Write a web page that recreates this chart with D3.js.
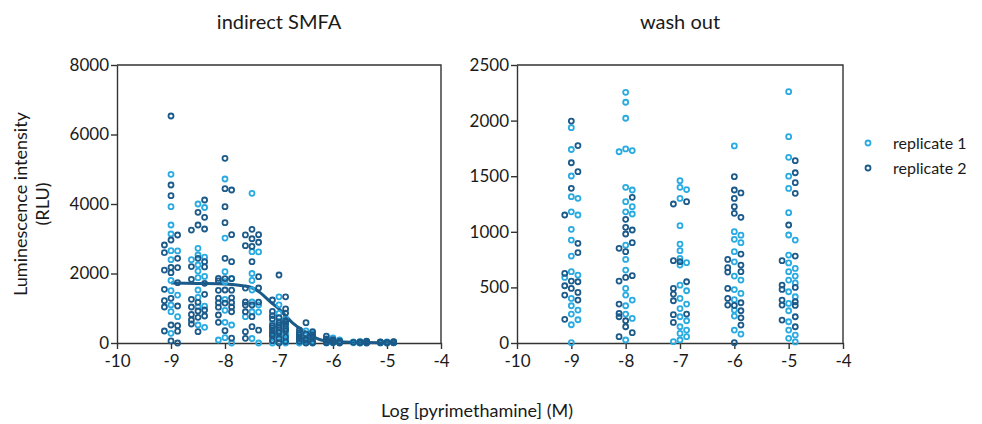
<!DOCTYPE html>
<html>
<head>
<meta charset="utf-8">
<script src="https://cdn.jsdelivr.net/npm/d3@7"></script>
<style>
  body { margin: 0; background: #fff; }
  text { font-family: Lato, "Open Sans", sans-serif; fill: #1a1a1a; }
  .axis path, .axis line { stroke: #333; stroke-width: 1.4; }
  .axis text { font-size: 17px; fill: #1a1a1a; }
</style>
</head>
<body>
<svg id="chart" width="982" height="424"></svg>
<script>
/*********** data ***********/
const smfaDoses = [-9, -8.5, -8, -7.5, -7, -6.5, -6, -5.5, -5];
const smfaRep1 = [
  [4855, 3924, 3396, 3137, 2656, 2650, 2397, 1800, 1506, 1380, 1094, 901, 758, 278],
  [4000, 3900, 2724, 2532, 2470, 2397, 2244, 2070, 1916, 1880, 1525, 1314, 1040, 1060, 518, 450],
  [4720, 3020, 2052, 1764, 1860, 1256, 940, 595, 518, 153, 0, 86],
  [4307, 2628, 2620, 2000, 1800, 1525, 1180, 1094, 900, 890, 758, 130, 0],
  [1330, 1100, 850, 700, 620, 560, 470, 380, 300, 250, 220, 160, 90, 30, 0, 0],
  [350, 280, 200, 150, 120, 90, 60, 40, 20, 10, 0, 0, 30, 70],
  [150, 90, 60, 30, 10, 0, 40, 20, 5],
  [40, 20, 5, 0, 10, 30],
  [30, 10, 0, 20, 5]
];
const smfaRep2 = [
  [6533, 4547, 4240, 3108, 2964, 2820, 2600, 2436, 2177, 2170, 2100, 2023, 1735, 1544, 1285, 1218, 1065, 1036, 518, 500, 345, 340, 60, 0],
  [4115, 3761, 3617, 3396, 3280, 3250, 2436, 2340, 2200, 2190, 1832, 1717, 1400, 1256, 1170, 1036, 950, 921, 820, 777, 740, 662, 547, 326],
  [5315, 4441, 4403, 3924, 3463, 3118, 2436, 2340, 1860, 1855, 1850, 1790, 1525, 1520, 1515, 1300, 1290, 1160, 1155, 1150, 1036, 1030, 900, 806, 595, 355, 140],
  [3272, 3118, 3110, 3000, 2900, 2800, 2780, 2340, 1908, 1583, 1580, 1180, 1175, 1094, 1090, 900, 758, 470, 370, 326, 134],
  [1957, 1330, 1237, 980, 910, 860, 790, 730, 690, 640, 600, 580, 540, 520, 500, 450, 445, 410, 370, 350, 330, 290, 260, 210, 170, 130, 70, 40, 0],
  [585, 380, 330, 300, 260, 240, 230, 190, 160, 140, 130, 110, 80, 50, 20, 5, 0],
  [200, 120, 100, 80, 60, 50, 30, 25, 15, 10, 0],
  [50, 40, 30, 25, 20, 15, 10, 5, 0],
  [40, 35, 30, 25, 20, 15, 10, 5, 0]
];
const fitDose = [-9, -8.5, -8, -7.67, -7.5, -7.35, -7.17, -7, -6.75, -6.5, -6.25, -6, -5.5, -5, -4.82];
const fitValue = [1730, 1715, 1700, 1650, 1590, 1450, 1200, 980, 580, 300, 100, 40, 15, 10, 10];

const washDoses = [-9, -8, -7, -6, -5];
const washRep1 = [
  [1936, 1740, 1502, 1316, 1301, 1180, 1151, 1022, 926, 782, 641, 611, 590, 401, 335, 296, 260, 209, 164, 3],
  [2254, 2165, 2021, 1745, 1730, 1720, 1400, 1376, 1271, 1226, 1180, 1160, 880, 752, 656, 491, 431, 386, 335, 260, 221, 27],
  [1460, 1400, 1380, 1300, 1055, 890, 830, 761, 722, 701, 520, 470, 401, 350, 310, 236, 200, 146, 116, 86, 57, 27, 12],
  [1772, 1001, 970, 932, 902, 821, 730, 602, 566, 480, 446, 390, 296, 242, 116, 80],
  [2260, 1855, 1670, 1500, 1390, 1172, 971, 926, 791, 720, 671, 641, 602, 566, 540, 461, 416, 356, 290, 191, 116, 71, 42, 10]
];
const washRep2 = [
  [1996, 1775, 1621, 1541, 1391, 1151, 896, 812, 626, 557, 551, 515, 491, 455, 431, 386, 213],
  [1310, 1112, 1040, 1016, 980, 902, 851, 821, 605, 590, 557, 350, 266, 236, 200, 146, 93, 57],
  [1271, 1250, 740, 731, 551, 491, 440, 380, 260, 255, 185],
  [1496, 1376, 1350, 1300, 1226, 1166, 1130, 800, 752, 701, 677, 641, 638, 491, 401, 362, 341, 338, 290, 226, 161, 3],
  [1640, 1531, 1442, 1346, 1061, 782, 740, 521, 500, 482, 386, 371, 341, 338, 236, 206, 146]
];

const xTicks = [-10, -9, -8, -7, -6, -5, -4];
const smfaYTicks = [0, 2000, 4000, 6000, 8000];
const washYTicks = [0, 500, 1000, 1500, 2000, 2500];
const seriesNames = ["replicate 1", "replicate 2"];
const seriesColors = ["#29abe2", "#1b5a89"];

/*********** setup ***********/
const svg = d3.select("svg#chart");
const plotTop = 65, plotBottom = 343;
const fmt = d => (d < 0 ? "-" + Math.abs(d) : String(d));

// flatten into points, rep1 first so it claims the centre slot
const toPoints = (doses, r1, r2) => {
  const pts = [];
  doses.forEach((d, i) => {
    r1[i].forEach(v => pts.push({ d, v, rep: 0 }));
    r2[i].forEach(v => pts.push({ d, v, rep: 1 }));
  });
  return pts;
};

// simple spread of overlapping dots, like the scatter in the original
const spread = (pts, x, y) => {
  const step = 6.6, minGap = 6;
  d3.group(pts, p => p.d).forEach(col => {
    const placed = [];
    col.forEach(p => {
      const cy = y(p.v);
      let best = x(p.d), bestGap = -1;
      for (const k of [0, 1, -1]) {
        const cx = x(p.d) + k * step;
        const gap = placed.length ? d3.min(placed, q => Math.hypot(q.px - cx, q.py - cy)) : Infinity;
        if (gap >= minGap) { best = cx; break; }
        if (gap > bestGap) { bestGap = gap; best = cx; }
      }
      p.px = best;
      p.py = cy;
      placed.push(p);
    });
  });
  return pts;
};

const drawPanel = (left, right, yMax, yTicks, title, pts, fit) => {
  const x = d3.scaleLinear().domain([-10, -4]).range([left, right]);
  const y = d3.scaleLinear().domain([0, yMax]).range([plotBottom, plotTop]);
  const g = svg.append("g");

  // frame top & right
  g.append("path")
    .attr("d", `M${x(-10)},${y(yMax)}H${x(-4)}V${y(0)}`)
    .attr("fill", "none").attr("stroke", "#333").attr("stroke-width", 1.4);

  g.append("g").attr("class", "axis")
    .attr("transform", `translate(0,${y(0)})`)
    .call(d3.axisBottom(x).tickValues(xTicks).tickFormat(fmt).tickSize(6).tickSizeOuter(0).tickPadding(4))
    .selectAll("text").attr("dy", "0.8em");
  g.append("g").attr("class", "axis")
    .attr("transform", `translate(${x(-10)},0)`)
    .call(d3.axisLeft(y).tickValues(yTicks).tickFormat(fmt).tickSize(6).tickSizeOuter(0).tickPadding(2));

  g.append("text").text(title)
    .attr("x", (left + right) / 2).attr("y", 29)
    .attr("text-anchor", "middle").style("font-size", "20px");

  if (fit) {
    g.append("path")
      .datum(fit)
      .attr("d", d3.line().x(d => x(d[0])).y(d => y(d[1])).curve(d3.curveMonotoneX))
      .attr("fill", "none").attr("stroke", seriesColors[1]).attr("stroke-width", 3);
  }

  spread(pts, x, y);
  g.append("g").selectAll("circle")
    .data(pts)
    .join("circle")
    .attr("cx", d => d.px)
    .attr("cy", d => d.py)
    .attr("r", 2.5)
    .attr("fill", "none")
    .attr("stroke", d => seriesColors[d.rep])
    .attr("stroke-width", 1.8);
};

drawPanel(117, 441, 8000, smfaYTicks, "indirect SMFA",
  toPoints(smfaDoses, smfaRep1, smfaRep2),
  fitDose.map((d, i) => [d, fitValue[i]]));
drawPanel(517, 843, 2500, washYTicks, "wash out",
  toPoints(washDoses, washRep1, washRep2), null);

/*********** labels & legend ***********/
const yLab = svg.append("text")
  .attr("transform", "translate(21,204) rotate(-90)")
  .attr("text-anchor", "middle").style("font-size", "18px");
yLab.append("tspan").attr("x", 0).attr("dy", "0.35em").text("Luminescence intensity");
yLab.append("tspan").attr("x", 0).attr("dy", "1.2em").text("(RLU)");

svg.append("text").text("Log [pyrimethamine] (M)")
  .attr("x", 477).attr("y", 417)
  .attr("text-anchor", "middle").style("font-size", "18px");

const legend = svg.append("g").attr("transform", "translate(868,143)");
seriesNames.forEach((name, i) => {
  legend.append("circle")
    .attr("cx", 0).attr("cy", i * 25).attr("r", 2.5)
    .attr("fill", "none").attr("stroke", seriesColors[i]).attr("stroke-width", 1.8);
  legend.append("text").text(name)
    .attr("x", 25).attr("y", i * 25).attr("dy", "0.35em")
    .style("font-size", "16px");
});
</script>
</body>
</html>
